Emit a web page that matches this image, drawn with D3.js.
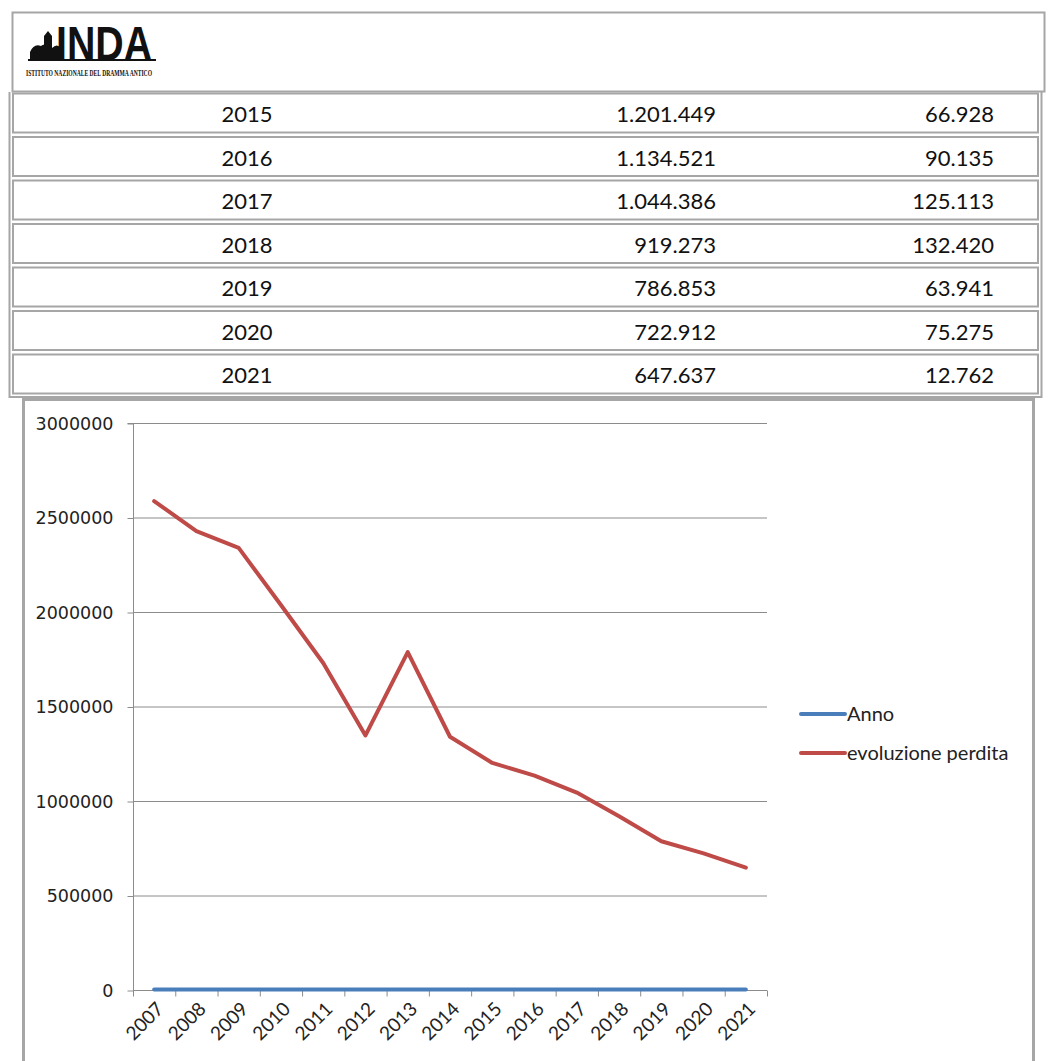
<!DOCTYPE html>
<html><head><meta charset="utf-8">
<script src="https://cdn.jsdelivr.net/npm/d3@7"></script>
<style>html,body{margin:0;padding:0;background:#fff;overflow:hidden}</style>
</head><body>
<script>
const years = ["2007","2008","2009","2010","2011","2012","2013","2014","2015","2016","2017","2018","2019","2020","2021"];
const perdita = [2587000,2428000,2339000,2037000,1730000,1347000,1788000,1340000,1201449,1134521,1044386,919273,786853,722912,647637];
const anno = [2007,2008,2009,2010,2011,2012,2013,2014,2015,2016,2017,2018,2019,2020,2021];
const tableYears = ["2015","2016","2017","2018","2019","2020","2021"];
const tableValues = [1201449,1134521,1044386,919273,786853,722912,647637];
const tableLoss = [66928,90135,125113,132420,63941,75275,12762];
const yTicks = [0,500000,1000000,1500000,2000000,2500000,3000000];
const seriesNames = ["Anno","evoluzione perdita"];
const seriesColors = ["#4A7EBB","#BE4B48"];

const W=1051,H=1061;
const svg=d3.select("body").append("svg").attr("width",W).attr("height",H);
const gray="#a6a6a6";
const it=d3.formatLocale({decimal:",",thousands:".",grouping:[3],currency:["€",""]});
const fmt=it.format(",d");

// Header box with logo
svg.append("rect").attr("x",12.5).attr("y",12.5).attr("width",1032).attr("height",79).attr("fill","none").attr("stroke",gray).attr("stroke-width",2);
const logo=svg.append("g");
logo.append("path").attr("d","M30,60 L30,52 Q34,43 41,46 Q45,42 49,48 L49,60 Z M44,60 L44,36 L48,31 L52,36 L52,60 Z M52,60 L52,48 Q57,43 61,48 L61,60 Z").attr("fill","#111");
logo.append("rect").attr("x",28).attr("y",59).attr("width",128).attr("height",2).attr("fill","#111");
logo.append("text").attr("x",56).attr("y",60).attr("font-family","Liberation Sans Narrow, Liberation Sans, sans-serif").attr("font-size",48).attr("font-weight","bold").attr("textLength",96).attr("lengthAdjust","spacingAndGlyphs").attr("fill","#111").text("INDA");
logo.append("text").attr("x",26).attr("y",76).attr("font-family","Liberation Serif, serif").attr("font-weight","bold").attr("font-size",7.5).attr("textLength",126).attr("lengthAdjust","spacingAndGlyphs").attr("fill","#111").text("ISTITUTO NAZIONALE DEL DRAMMA ANTICO");

// Table
const tY0=93, pitch=43.5, rowH=39;
svg.append("line").attr("x1",9.5).attr("x2",9.5).attr("y1",92).attr("y2",398).attr("stroke",gray).attr("stroke-width",2);
svg.append("line").attr("x1",1041.5).attr("x2",1041.5).attr("y1",92).attr("y2",398).attr("stroke",gray).attr("stroke-width",2);
svg.append("line").attr("x1",9).attr("x2",1042).attr("y1",397).attr("y2",397).attr("stroke",gray).attr("stroke-width",2);
const rows=svg.selectAll("g.row").data(tableYears).join("g").attr("class","row")
  .attr("transform",(d,i)=>`translate(0,${tY0+i*pitch})`);
rows.append("rect").attr("x",13).attr("y",0.5).attr("width",1025).attr("height",rowH).attr("fill","none").attr("stroke",gray).attr("stroke-width",2);
rows.append("text").attr("x",247).attr("y",29).attr("text-anchor","middle").attr("font-family","Lato, sans-serif").attr("font-size",22).attr("fill","#111").text(d=>d);
rows.append("text").attr("x",716).attr("y",29).attr("text-anchor","end").attr("font-family","Lato, sans-serif").attr("font-size",22).attr("fill","#111").text((d,i)=>fmt(tableValues[i]));
rows.append("text").attr("x",994).attr("y",29).attr("text-anchor","end").attr("font-family","Lato, sans-serif").attr("font-size",22).attr("fill","#111").text((d,i)=>fmt(tableLoss[i]));

// Chart frame
svg.append("rect").attr("x",23.5).attr("y",399.5).attr("width",1010).attr("height",700).attr("fill","none").attr("stroke",gray).attr("stroke-width",3);
svg.append("rect").attr("x",25).attr("y",401).attr("width",1007).attr("height",700).attr("fill","#fff");

const m={l:133,r:767,t:423,b:990};
const x=d3.scaleBand().domain(years).range([m.l,m.r]);
const y=d3.scaleLinear().domain([0,3000000]).range([m.b,m.t]);

// gridlines
svg.append("g").selectAll("line").data(yTicks.filter(v=>v>0)).join("line")
  .attr("x1",m.l).attr("x2",m.r).attr("y1",d=>y(d)+0.5).attr("y2",d=>y(d)+0.5).attr("stroke","#8c8c8c").attr("stroke-width",1);

// y axis
const ya=svg.append("g").attr("transform",`translate(${m.l+0.5},0.5)`).call(d3.axisLeft(y).tickValues(yTicks).tickSize(6).tickPadding(14).tickFormat(d3.format("d")));
ya.select(".domain").attr("stroke","#8c8c8c").attr("d",`M-6,${y(3000000)}H0V${y(0)}`);
ya.selectAll(".tick line").attr("stroke","#8c8c8c");
ya.selectAll("text").attr("font-family","DejaVu Sans, sans-serif").attr("font-size",17.5).attr("fill","#222");

// x axis
const xa=svg.append("g").attr("transform",`translate(0,${m.b+0.5})`);
xa.append("line").attr("x1",m.l).attr("x2",m.r).attr("stroke","#8c8c8c");
const bounds=years.map(d=>x(d)).concat([m.r]);
xa.selectAll("line.tk").data(bounds).join("line").attr("class","tk")
  .attr("x1",d=>d+0.5).attr("x2",d=>d+0.5).attr("y1",0).attr("y2",6).attr("stroke","#8c8c8c");
xa.selectAll("text").data(years).join("text")
  .attr("transform",d=>`translate(${x(d)+x.bandwidth()/2+6},${15}) rotate(-45)`)
  .attr("text-anchor","end").attr("dy","0.35em")
  .attr("font-family","Lato, sans-serif").attr("font-size",19).attr("fill","#222").text(d=>d);

// lines
const line=d3.line().x((d,i)=>x(years[i])+x.bandwidth()/2).y(d=>y(d));
svg.append("path").datum(anno).attr("d",line).attr("fill","none").attr("stroke",seriesColors[0]).attr("stroke-width",4).attr("stroke-linejoin","round").attr("stroke-linecap","round");
svg.append("path").datum(perdita).attr("d",line).attr("fill","none").attr("stroke",seriesColors[1]).attr("stroke-width",4).attr("stroke-linejoin","round").attr("stroke-linecap","round");

// legend
const lg=svg.append("g").selectAll("g").data(seriesNames).join("g").attr("transform",(d,i)=>`translate(801,${714+i*39})`);
lg.append("line").attr("x1",0).attr("x2",44).attr("stroke",(d,i)=>seriesColors[i]).attr("stroke-width",4).attr("stroke-linecap","round");
lg.append("text").attr("x",46).attr("dy","0.35em").attr("font-family","Lato, sans-serif").attr("font-size",20).attr("fill","#222").text(d=>d);
</script>
</body></html>
